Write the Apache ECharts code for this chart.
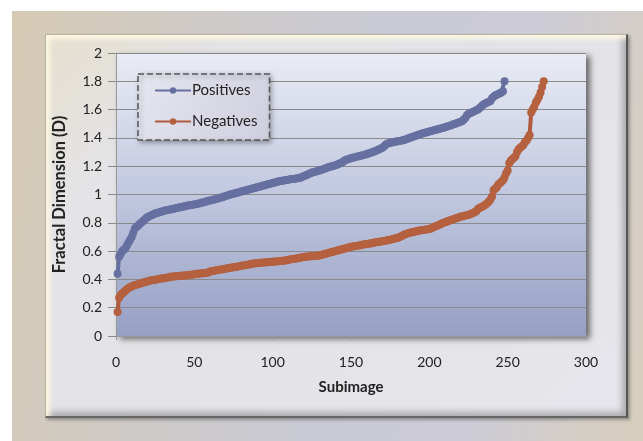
<!DOCTYPE html>
<html>
<head>
<meta charset="utf-8">
<script src="https://cdn.jsdelivr.net/npm/echarts@6/dist/echarts.min.js"></script>
<style>
html,body{margin:0;padding:0;background:#fff;}
#bg{position:absolute;left:12px;top:11px;width:631px;height:430px;
background:linear-gradient(100deg,#d6cab3 0%,#cfcac6 25%,#c9cad6 55%,#cdccd6 75%,#d8cebd 100%);}
#panel{position:absolute;left:45px;top:34px;width:580px;height:381px;
background:linear-gradient(135deg,#e6e0cf 0%,#e4e3e6 20%,#e3e3e8 60%,#e6e6ec 100%);
border-right:2px solid #555;border-bottom:2px solid #666;border-top:1px solid #b8b2a0;border-left:1px solid #b8b2a0;
box-shadow:inset 7px 7px 5px -3px rgba(255,250,225,0.9), inset -7px -7px 6px -3px rgba(0,0,0,0.25), 2px 2px 3px rgba(0,0,0,0.3);}
#chart{position:absolute;left:0;top:0;width:643px;height:441px;}
</style>
</head>
<body>
<div id="bg"></div>
<div id="panel"></div>
<div id="chart"></div>
<script>
var xTicks = [0, 50, 100, 150, 200, 250, 300];
var yTicks = [0, 0.2, 0.4, 0.6, 0.8, 1, 1.2, 1.4, 1.6, 1.8, 2];
var seriesNames = ['Positives', 'Negatives'];

var positives = [
0.44,0.56,0.58,0.60,0.61,0.62,0.64,0.66,0.68,0.70,
0.73,0.76,0.77,0.78,0.79,0.80,0.81,0.82,0.83,0.84,
0.845,0.85,0.855,0.86,0.865,0.87,0.872,0.875,0.88,0.882,
0.885,0.888,0.89,0.893,0.895,0.898,0.90,0.903,0.905,0.908,
0.91,0.912,0.915,0.917,0.92,0.922,0.924,0.926,0.928,0.93,
0.932,0.935,0.937,0.94,0.943,0.946,0.949,0.952,0.955,0.958,
0.96,0.963,0.966,0.969,0.972,0.975,0.978,0.981,0.985,0.99,
0.993,0.996,1.0,1.003,1.006,1.009,1.012,1.015,1.018,1.021,
1.024,1.027,1.03,1.033,1.036,1.039,1.042,1.045,1.048,1.051,
1.054,1.057,1.06,1.063,1.066,1.069,1.072,1.075,1.078,1.081,
1.084,1.087,1.09,1.093,1.095,1.097,1.099,1.101,1.103,1.105,
1.107,1.109,1.11,1.112,1.113,1.115,1.117,1.12,1.125,1.13,
1.135,1.14,1.145,1.15,1.155,1.158,1.161,1.164,1.167,1.17,
1.174,1.178,1.182,1.186,1.19,1.194,1.198,1.2,1.203,1.207,
1.211,1.215,1.22,1.225,1.232,1.24,1.245,1.25,1.253,1.256,
1.259,1.262,1.265,1.268,1.27,1.273,1.276,1.279,1.282,1.285,
1.289,1.293,1.297,1.301,1.305,1.31,1.315,1.32,1.325,1.33,
1.34,1.35,1.358,1.362,1.365,1.368,1.37,1.372,1.374,1.376,
1.378,1.38,1.383,1.386,1.39,1.394,1.398,1.402,1.406,1.41,
1.414,1.418,1.422,1.426,1.43,1.433,1.436,1.439,1.442,1.445,
1.448,1.451,1.454,1.457,1.46,1.463,1.466,1.469,1.472,1.475,
1.478,1.482,1.486,1.49,1.494,1.498,1.502,1.506,1.51,1.515,
1.52,1.53,1.54,1.56,1.57,1.575,1.58,1.585,1.59,1.595,
1.60,1.61,1.62,1.63,1.64,1.645,1.65,1.655,1.66,1.68,
1.69,1.70,1.705,1.71,1.715,1.72,1.73,1.80
];

var negatives = [
0.17,0.27,0.29,0.30,0.31,0.32,0.33,0.34,0.345,0.35,
0.355,0.36,0.363,0.366,0.37,0.373,0.376,0.38,0.383,0.386,
0.389,0.392,0.394,0.396,0.398,0.40,0.402,0.404,0.406,0.408,
0.41,0.412,0.414,0.416,0.418,0.42,0.421,0.422,0.423,0.424,
0.425,0.426,0.427,0.428,0.429,0.43,0.431,0.432,0.434,0.436,
0.438,0.44,0.441,0.442,0.443,0.444,0.445,0.446,0.45,0.455,
0.458,0.46,0.462,0.464,0.466,0.468,0.47,0.472,0.474,0.476,
0.478,0.48,0.482,0.484,0.486,0.488,0.49,0.492,0.494,0.496,
0.498,0.50,0.502,0.504,0.506,0.508,0.51,0.512,0.514,0.515,
0.516,0.517,0.518,0.519,0.52,0.521,0.522,0.523,0.524,0.525,
0.526,0.527,0.528,0.529,0.53,0.531,0.532,0.534,0.536,0.538,
0.54,0.542,0.544,0.546,0.548,0.55,0.552,0.554,0.556,0.558,
0.56,0.561,0.562,0.563,0.564,0.565,0.566,0.567,0.568,0.57,
0.573,0.576,0.579,0.582,0.585,0.588,0.591,0.594,0.597,0.60,
0.603,0.606,0.609,0.612,0.615,0.618,0.621,0.624,0.627,0.63,
0.632,0.634,0.636,0.638,0.64,0.642,0.644,0.646,0.648,0.65,
0.652,0.654,0.656,0.658,0.66,0.662,0.664,0.666,0.668,0.67,
0.672,0.674,0.676,0.678,0.68,0.683,0.686,0.689,0.692,0.695,
0.70,0.705,0.71,0.715,0.72,0.724,0.728,0.731,0.734,0.737,
0.739,0.741,0.743,0.745,0.747,0.749,0.751,0.753,0.755,0.757,
0.76,0.765,0.77,0.775,0.78,0.785,0.79,0.795,0.80,0.804,
0.808,0.812,0.816,0.82,0.824,0.828,0.832,0.836,0.84,0.844,
0.845,0.848,0.851,0.854,0.857,0.86,0.865,0.87,0.876,0.882,
0.898,0.904,0.91,0.916,0.922,0.93,0.94,0.95,0.965,0.985,
1.03,1.04,1.05,1.07,1.08,1.09,1.10,1.12,1.15,1.17,
1.22,1.24,1.25,1.26,1.27,1.30,1.32,1.33,1.34,1.35,
1.37,1.38,1.40,1.42,1.58,1.60,1.62,1.65,1.67,1.69,
1.72,1.76,1.80
];

function toPairs(arr){ return arr.map(function(v,i){ return [i+1, v]; }); }

var chart = echarts.init(document.getElementById('chart'), null, {renderer:'canvas'});
var font = 'Lato, "Liberation Sans", sans-serif';
var option = {
  backgroundColor: 'transparent',
  animation: false,
  textStyle: {fontFamily: font},
  grid: {
    left: 116, right: 57, top: 53, bottom: 105,
    show: true,
    backgroundColor: new echarts.graphic.LinearGradient(0,0,0,1,[
      {offset:0, color:'#e9ecf5'},{offset:0.5,color:'#c1c7df'},{offset:1,color:'#96a0c4'}]),
    borderWidth: 0,
    shadowColor: 'rgba(0,0,0,0.55)', shadowBlur: 6, shadowOffsetX: 4, shadowOffsetY: 3
  },
  legend: {
    orient: 'vertical', left: 138, top: 74,
    padding: [9, 12, 11, 16], itemGap: 16,
    itemWidth: 36, itemHeight: 8,
    borderColor: '#555', borderWidth: 1.5, borderType: 'dashed',
    backgroundColor: new echarts.graphic.LinearGradient(0,0,1,1,[
      {offset:0,color:'#e6e6f0'},{offset:1,color:'#cfcfde'}]),
    shadowColor:'rgba(0,0,0,0.35)', shadowBlur:5, shadowOffsetX:2, shadowOffsetY:2,
    textStyle: {fontSize: 15, color: '#222', fontFamily: font, padding:[0,0,0,-4]},
    data: seriesNames
  },
  xAxis: {
    type: 'value', min: 0, max: 300, interval: 50,
    name: 'Subimage', nameLocation: 'middle', nameGap: 44,
    nameTextStyle: {fontSize: 15, fontWeight: 'bold', color: '#222', fontFamily: font},
    axisLine: {show: true, lineStyle: {color: '#999', width: 1}},
    axisTick: {show: true, length: 4, inside: false, lineStyle: {color: '#999'}},
    axisLabel: {fontSize: 14, color: '#222', margin: 19, fontFamily: font},
    splitLine: {show: false}
  },
  yAxis: {
    type: 'value', min: 0, max: 2, interval: 0.2,
    name: 'Fractal Dimension (D)', nameLocation: 'middle', nameGap: 48,
    nameTextStyle: {fontSize: 16.5, fontWeight: 'bold', color: '#222', fontFamily: font},
    axisLine: {show: true, lineStyle: {color: '#999', width: 1}},
    axisTick: {show: true, length: 8, lineStyle: {color: '#888'}},
    axisLabel: {fontSize: 14, color: '#222', margin: 14, fontFamily: font,
      formatter: function(v){ return String(Math.round(v*10)/10); }},
    splitLine: {show: true, lineStyle: {color: '#8a8a8a', width: 1.2}}
  },
  series: [
    {name: seriesNames[0], type: 'line', data: toPairs(positives),
     symbol: 'circle', symbolSize: 8, showSymbol: true,
     lineStyle: {color: '#6670a0', width: 4},
     itemStyle: {color: '#6670a0'}, z: 3},
    {name: seriesNames[1], type: 'line', data: toPairs(negatives),
     symbol: 'circle', symbolSize: 8, showSymbol: true,
     lineStyle: {color: '#b25a3e', width: 4},
     itemStyle: {color: '#b5603f'}, z: 3}
  ]
};
chart.setOption(option);
</script>
</body>
</html>
